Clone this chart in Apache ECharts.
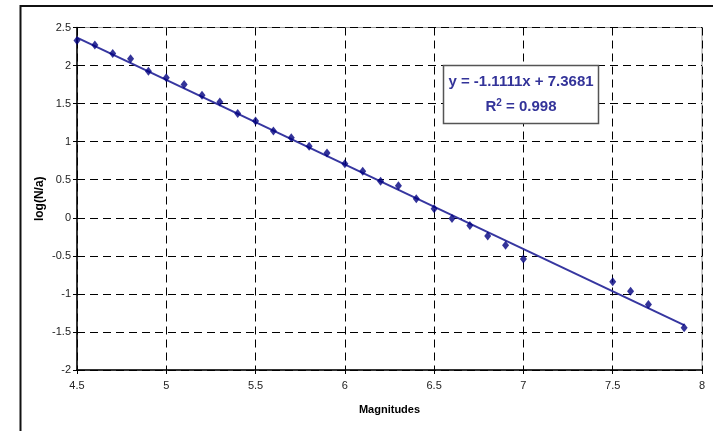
<!DOCTYPE html>
<html><head><meta charset="utf-8">
<script src="https://cdn.jsdelivr.net/npm/echarts@6/dist/echarts.min.js"></script>
<style>html,body{margin:0;padding:0;background:#fff}#c{width:713px;height:431px}</style>
</head><body><div id="c"></div>
<script>
var magnitudes = [4.5,4.6,4.7,4.8,4.9,5.0,5.1,5.2,5.3,5.4,5.5,5.6,5.7,5.8,5.9,6.0,6.1,6.2,6.3,6.4,6.5,6.6,6.7,6.8,6.9,7.0,7.5,7.6,7.7,7.9];
var logNa = [2.33,2.27,2.16,2.09,1.925,1.84,1.75,1.61,1.52,1.37,1.27,1.14,1.05,0.94,0.85,0.71,0.61,0.48,0.42,0.25,0.12,-0.01,-0.10,-0.24,-0.36,-0.54,-0.84,-0.965,-1.14,-1.445];
var trendSlope = -1.1111, trendIntercept = 7.3681, rSquared = 0.998;
var trendRange = [4.5, 7.9];
var xTicks = [4.5,5,5.5,6,6.5,7,7.5,8];
var yTicks = [-2,-1.5,-1,-0.5,0,0.5,1,1.5,2,2.5];

var pts = magnitudes.map(function(m,i){return [m, logNa[i]];});
var trend = trendRange.map(function(x){return [x, trendSlope*x + trendIntercept];});
var font = 'Liberation Sans, Arial, sans-serif';
var chart = echarts.init(document.getElementById('c'));
var axX = {type:'value', min:4.5, max:8, interval:0.5, position:'bottom'};
var axY = {type:'value', min:-2, max:2.5, interval:0.5, position:'left'};
chart.setOption({
  animation:false,
  grid:{left:77, top:27.5, right:11, bottom:61, show:true, borderColor:'#999', borderWidth:1, backgroundColor:'#fff'},
  xAxis:[Object.assign({}, axX, {
    name:'Magnitudes', nameLocation:'middle', nameGap:34,
    nameTextStyle:{fontFamily:font, fontSize:11, fontWeight:'bold', color:'#000'},
    axisLine:{onZero:false, lineStyle:{color:'#000', width:1.5}},
    axisTick:{show:true, length:4, lineStyle:{color:'#000'}},
    axisLabel:{fontFamily:font, fontSize:11, color:'#222', margin:10},
    splitLine:{show:true, lineStyle:{color:'#000', type:[8,5], width:1}}
  }), Object.assign({}, axX, {
    axisLine:{show:false}, axisTick:{show:true, inside:true, length:4, lineStyle:{color:'#000'}},
    axisLabel:{show:false}, splitLine:{show:false}
  })],
  yAxis:[Object.assign({}, axY, {
    name:'log(N/a)', nameLocation:'middle', nameGap:31, nameRotate:90, nameMoveOverlap:false,
    nameTextStyle:{fontFamily:font, fontSize:12, fontWeight:'bold', color:'#000'},
    axisLine:{onZero:false, lineStyle:{color:'#000', width:1.5}},
    axisTick:{show:true, length:4, lineStyle:{color:'#000'}},
    axisLabel:{fontFamily:font, fontSize:11, color:'#222', margin:6},
    splitLine:{show:true, lineStyle:{color:'#000', type:[8,5], width:1}}
  }), Object.assign({}, axY, {
    axisLine:{show:false}, axisTick:{show:true, inside:true, length:4, lineStyle:{color:'#000'}},
    axisLabel:{show:false}, splitLine:{show:false}
  })],
  series:[
    {type:'line', data:trend, showSymbol:false, symbol:'none', lineStyle:{color:'#3636a0', width:2}, z:2},
    {type:'scatter', data:pts, symbol:'diamond', symbolSize:[7,9], itemStyle:{color:'#000080'}, z:3}
  ],
  graphic:[
    {type:'rect', shape:{x:20.5, y:6, width:720, height:440}, style:{fill:null, stroke:'#111', lineWidth:2}, silent:true},
    {type:'rect', shape:{x:443.5, y:65.5, width:155, height:58}, style:{fill:'#fff', stroke:'#555', lineWidth:1.5}, z:10},
    {type:'text', x:521, y:82, z:11, style:{text:'y = -1.1111x + 7.3681', fontFamily:font, fontSize:15, fontWeight:'bold', fill:'#333399', align:'center', verticalAlign:'middle'}},
    {type:'text', x:521, y:107, z:11, style:{text:'{r|R}{s|2}{r| = ' + rSquared + '}', fill:'#333399', align:'center', verticalAlign:'middle',
      rich:{r:{fontFamily:font, fontSize:15, fontWeight:'bold', fill:'#333399', color:'#333399'}, s:{fontFamily:font, fontSize:10, fontWeight:'bold', fill:'#333399', color:'#333399', verticalAlign:'top', padding:[0,0,8,0]}}}}
  ]
});
</script></body></html>
